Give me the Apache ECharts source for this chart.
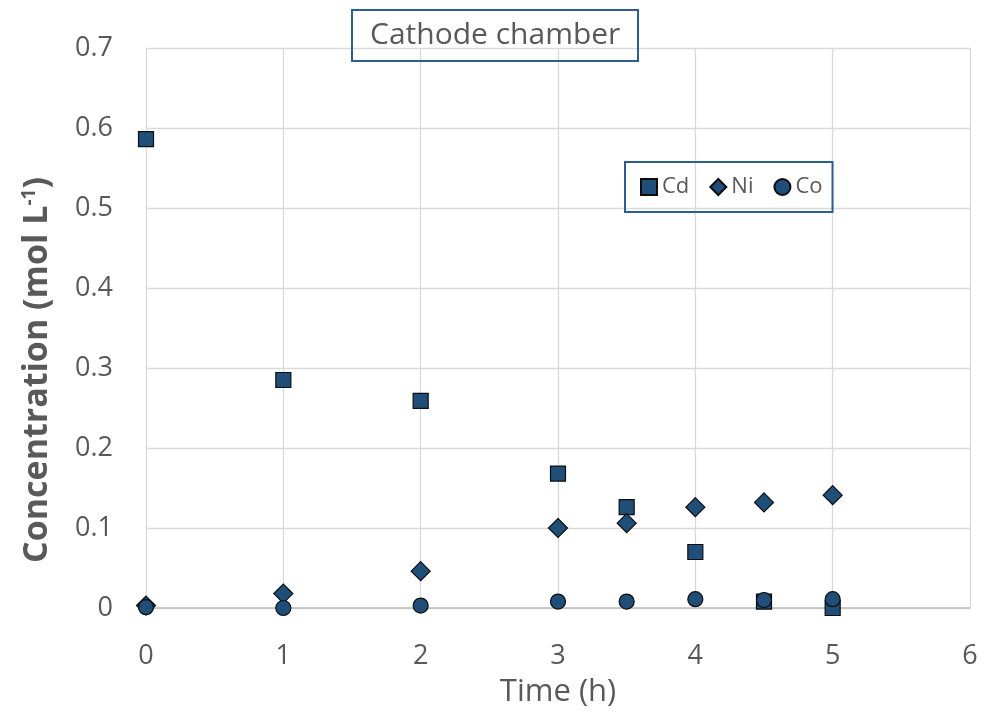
<!DOCTYPE html>
<html><head><meta charset="utf-8">
<script src="https://cdn.jsdelivr.net/npm/echarts@6/dist/echarts.min.js"></script>
<style>html,body{margin:0;padding:0;background:#fff}#c{width:984px;height:714px}</style>
</head><body><div id="c"></div>
<script>
const time = [0, 1, 2, 3, 3.5, 4, 4.5, 5];
const cd = [0.586, 0.285, 0.259, 0.168, 0.126, 0.070, 0.008, 0.000];
const ni = [0.003, 0.018, 0.046, 0.100, 0.106, 0.126, 0.132, 0.141];
const co = [0.001, 0.000, 0.003, 0.008, 0.008, 0.011, 0.010, 0.011];
const xTicks = [0, 1, 2, 3, 4, 5, 6];
const yTicks = [0, 0.1, 0.2, 0.3, 0.4, 0.5, 0.6, 0.7];

const FONT = '"Open Sans", "Noto Sans", sans-serif';
const fill = '#1f4e79';
const pair = arr => time.map((t, i) => [t, arr[i]]);
const chart = echarts.init(document.getElementById('c'), null, {renderer: 'canvas'});
const ser = (name, data, symbol, size) => ({
  name, type: 'scatter', data: pair(data), symbol, symbolSize: size,
  itemStyle: {color: fill, borderColor: '#0d0d0d', borderWidth: 1.2, opacity: 1},
  emphasis: {disabled: true}
});
chart.setOption({
  animation: false,
  title: {
    text: 'Cathode chamber', left: 352, top: 10,
    padding: [5, 18, 5, 18],
    borderColor: '#2f5e8e', borderWidth: 2,
    textStyle: {fontFamily: FONT, fontSize: 30, fontWeight: 'normal', color: '#595959', lineHeight: 41}
  },
  legend: {
    left: 625, top: 162, orient: 'horizontal',
    padding: [14, 10, 14, 15],
    itemGap: 20, itemWidth: 16, itemHeight: 16,
    borderColor: '#2f5e8e', borderWidth: 2,
    textStyle: {fontFamily: FONT, fontSize: 22, color: '#595959', padding: [0, 0, 0, 0]},
    data: [
      {name: 'Cd', icon: 'rect'},
      {name: 'Ni', icon: 'diamond'},
      {name: 'Co', icon: 'circle'}
    ]
  },
  grid: {left: 146, right: 14, top: 48, bottom: 106, containLabel: false},
  xAxis: {
    type: 'value', min: xTicks[0], max: xTicks[xTicks.length - 1], interval: 1,
    name: 'Time (h)', nameLocation: 'middle', nameGap: 69,
    nameTextStyle: {fontFamily: FONT, fontSize: 31, color: '#595959'},
    axisLine: {show: true, lineStyle: {color: '#bfbfbf', width: 1.5}},
    axisTick: {show: false},
    axisLabel: {fontFamily: FONT, fontSize: 27, color: '#595959', margin: 35},
    splitLine: {show: true, lineStyle: {color: '#d9d9d9', width: 1.3}}
  },
  yAxis: {
    type: 'value', min: yTicks[0], max: yTicks[yTicks.length - 1], interval: 0.1,
    name: 'Concentration (mol L{sup|-1})', nameLocation: 'middle', nameGap: 92,
    nameTextStyle: {fontFamily: FONT, fontSize: 34, fontWeight: 'bold', color: '#595959',
      padding: [0, 84, 0, 0],
      rich: {sup: {fontFamily: FONT, fontSize: 19, fontWeight: 'bold', color: '#595959', verticalAlign: 'top', padding: [0, 0, 15, 0]}}},
    axisLine: {show: false},
    axisTick: {show: false},
    axisLabel: {fontFamily: FONT, fontSize: 27, color: '#595959', margin: 33,
      formatter: v => String(Math.round(v * 10) / 10)},
    splitLine: {show: true, lineStyle: {color: '#d9d9d9', width: 1.3}}
  },
  series: [
    ser('Cd', cd, 'rect', 15),
    ser('Ni', ni, 'diamond', 19),
    ser('Co', co, 'circle', 15)
  ]
});
</script></body></html>
